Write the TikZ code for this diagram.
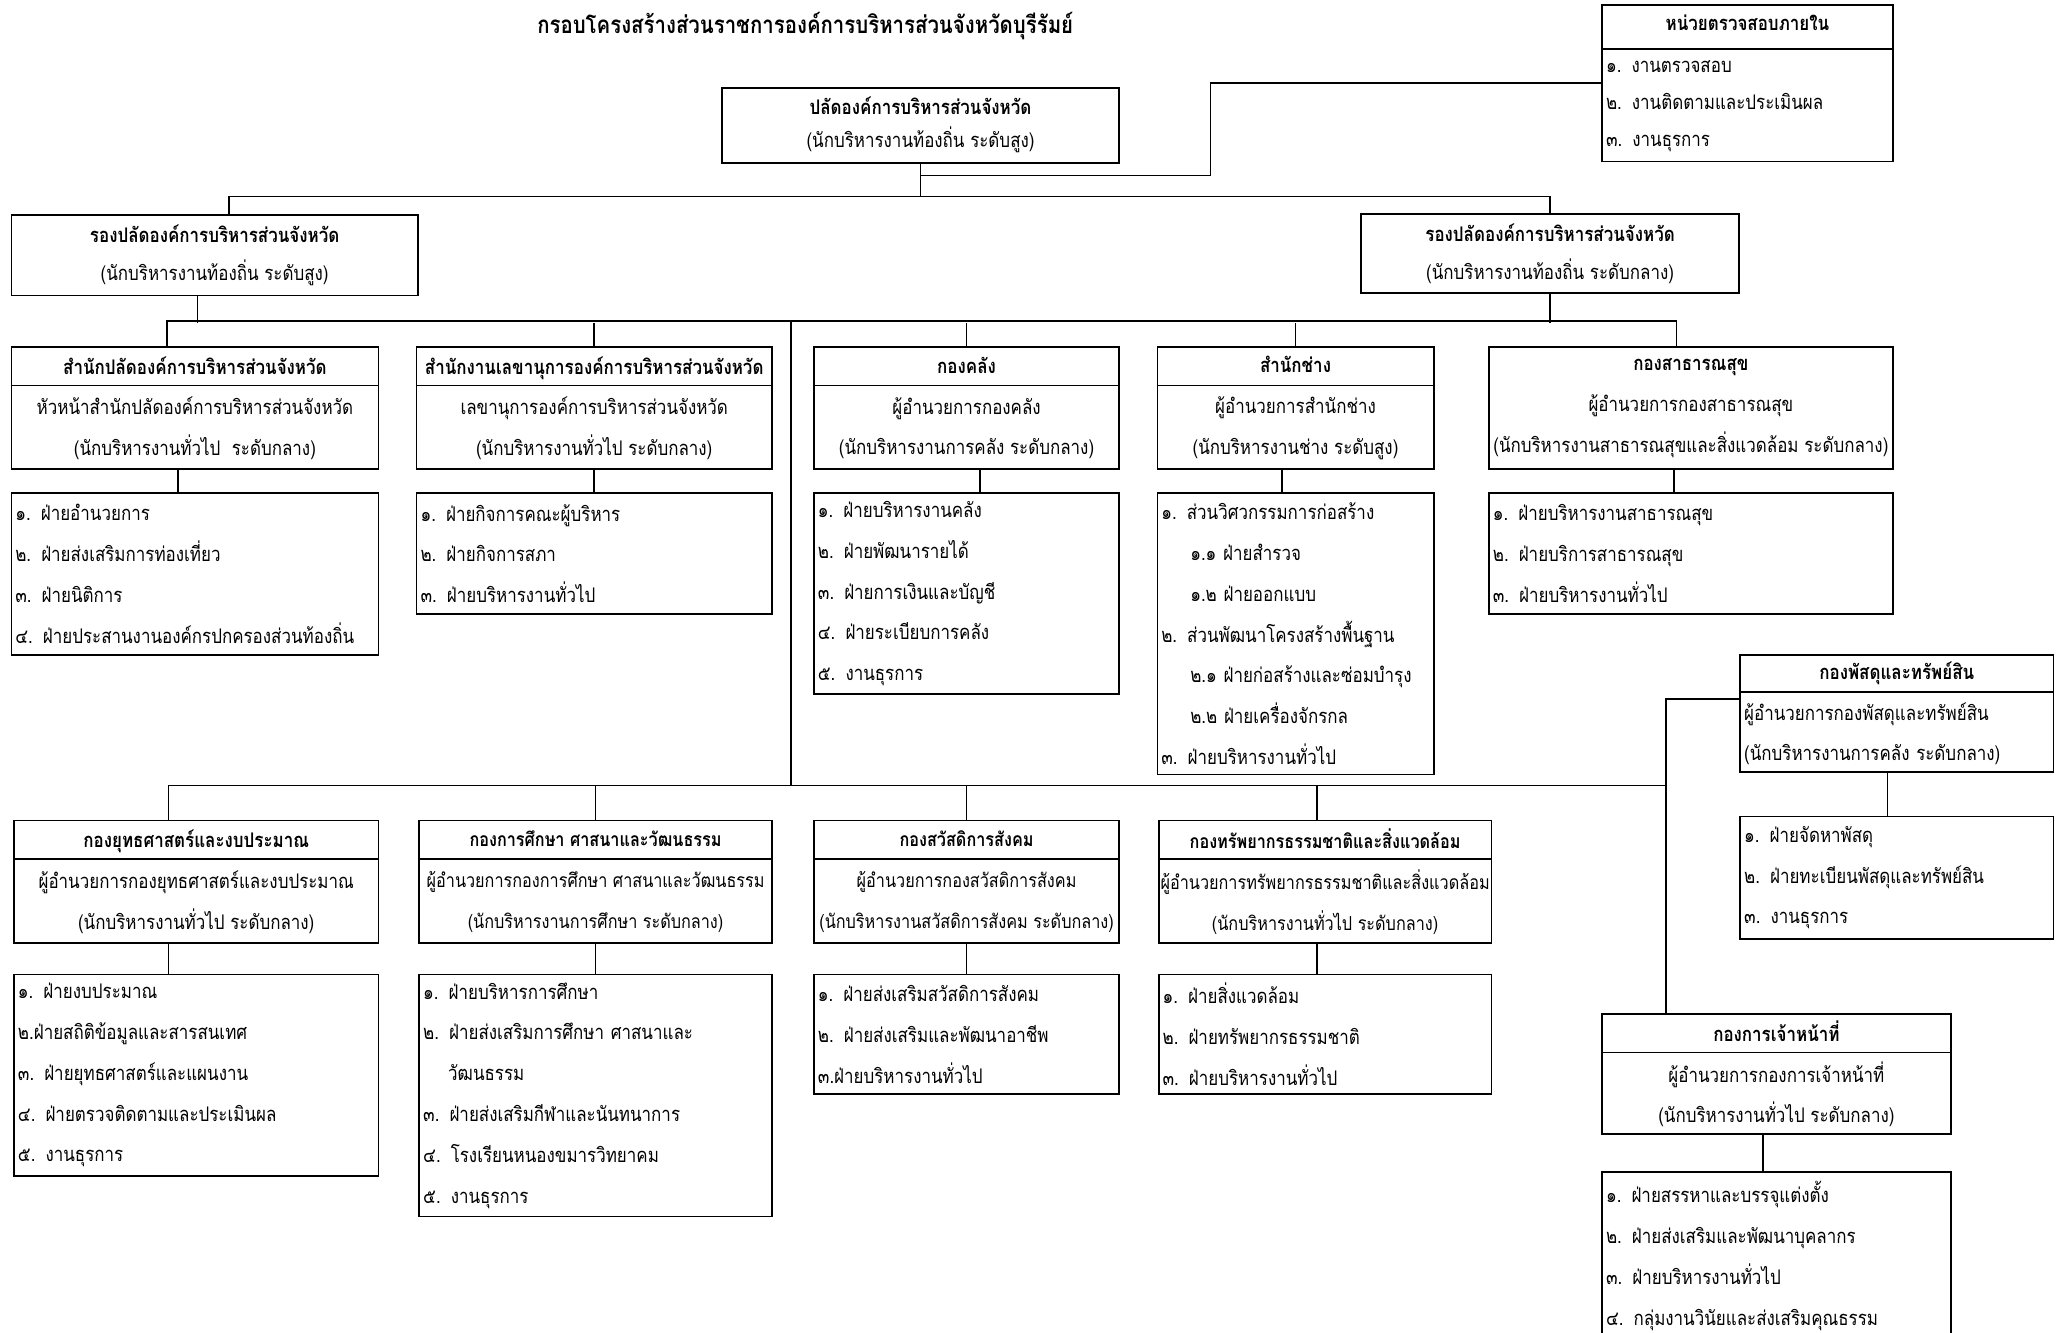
\documentclass[tikz,border=0pt]{standalone}
\usepackage{fontspec}
\usepackage{tikz}
\newfontfamily\thaifont[Script=Thai, FakeStretch=0.842]{Loma}
\usetikzlibrary{calc}
\tikzset{every node/.style={font=\thaifont\fontsize{15.3}{31}\selectfont},
 hbox/.style={draw, anchor=north west, align=center, inner sep=0pt},
 lbox/.style={draw, anchor=north west, align=left, inner xsep=3pt, inner ysep=0pt},
 small/.style={font=\thaifont\fontsize{14.65}{31}\selectfont},
 }

\begin{document}
\begin{tikzpicture}[x=1pt, y=-1pt, line width=1.3pt]
        \useasboundingbox (0,0) rectangle (1568,1013);
        \node[font=\thaifont\bfseries\fontsize{18.4}{20}\selectfont] (title) at (612,20) {กรอบโครงสร้างส่วนราชการองค์การบริหารส่วนจังหวัดบุรีรัมย์};

        % top level
        \node[hbox, minimum width=302, minimum height=57, font=\thaifont\fontsize{15.3}{25}\selectfont] (top) at (548,66) {\textbf{ปลัดองค์การบริหารส่วนจังหวัด}\\(นักบริหารงานท้องถิ่น ระดับสูง)};
        \node[lbox, text width=215pt, minimum height=119, font=\thaifont\fontsize{15.3}{28}\selectfont] (audit) at (1217,3) {\makebox[\linewidth]{\textbf{หน่วยตรวจสอบภายใน}}\\[4pt]๑. งานตรวจสอบ\\๒. งานติดตามและประเมินผล\\๓. งานธุรการ};
        \node[hbox, minimum width=309, minimum height=61, font=\thaifont\fontsize{15.3}{29}\selectfont] (dl) at (8,163) {\textbf{รองปลัดองค์การบริหารส่วนจังหวัด}\\(นักบริหารงานท้องถิ่น ระดับสูง)};
        \node[hbox, minimum width=287, minimum height=60, font=\thaifont\fontsize{15.3}{29}\selectfont] (dr) at (1034,162) {\textbf{รองปลัดองค์การบริหารส่วนจังหวัด}\\(นักบริหารงานท้องถิ่น ระดับกลาง)};

        % first row
        \node[hbox, minimum width=279, minimum height=93] (hpl) at (8,263) {\textbf{สำนักปลัดองค์การบริหารส่วนจังหวัด}\\หัวหน้าสำนักปลัดองค์การบริหารส่วนจังหวัด\\(นักบริหารงานทั่วไป\ \ ระดับกลาง)};
        \node[hbox, minimum width=270, minimum height=93] (hsk) at (316,263) {\textbf{สำนักงานเลขานุการองค์การบริหารส่วนจังหวัด}\\เลขานุการองค์การบริหารส่วนจังหวัด\\(นักบริหารงานทั่วไป ระดับกลาง)};
        \node[hbox, minimum width=232, minimum height=93] (hkk) at (618,263) {\textbf{กองคลัง}\\ผู้อำนวยการกองคลัง\\(นักบริหารงานการคลัง ระดับกลาง)};
        \node[hbox, minimum width=210, minimum height=93] (hch) at (879,263) {\textbf{สำนักช่าง}\\ผู้อำนวยการสำนักช่าง\\(นักบริหารงานช่าง ระดับสูง)};
        \node[hbox, minimum width=307, minimum height=93] (hsa) at (1131,263) {\textbf{กองสาธารณสุข}\\ผู้อำนวยการกองสาธารณสุข\\(นักบริหารงานสาธารณสุขและสิ่งแวดล้อม ระดับกลาง)};

        \node[lbox, text width=273pt, minimum height=123] (lpl) at (8,374) {๑. ฝ่ายอำนวยการ\\๒. ฝ่ายส่งเสริมการท่องเที่ยว\\๓. ฝ่ายนิติการ\\๔. ฝ่ายประสานงานองค์กรปกครองส่วนท้องถิ่น};
        \node[lbox, text width=264pt, minimum height=92] (lsk) at (316,374) {๑. ฝ่ายกิจการคณะผู้บริหาร\\๒. ฝ่ายกิจการสภา\\๓. ฝ่ายบริหารงานทั่วไป};
        \node[lbox, text width=226pt, minimum height=153] (lkk) at (618,374) {๑. ฝ่ายบริหารงานคลัง\\๒. ฝ่ายพัฒนารายได้\\๓. ฝ่ายการเงินและบัญชี\\๔. ฝ่ายระเบียบการคลัง\\๕. งานธุรการ};
        \node[lbox, text width=204pt, minimum height=214] (lch) at (879,374) {๑. ส่วนวิศวกรรมการก่อสร้าง\\\hspace*{22pt}๑.๑ ฝ่ายสำรวจ\\\hspace*{22pt}๑.๒ ฝ่ายออกแบบ\\๒. ส่วนพัฒนาโครงสร้างพื้นฐาน\\\hspace*{22pt}๒.๑ ฝ่ายก่อสร้างและซ่อมบำรุง\\\hspace*{22pt}๒.๒ ฝ่ายเครื่องจักรกล\\๓. ฝ่ายบริหารงานทั่วไป};
        \node[lbox, text width=301pt, minimum height=92] (lsa) at (1131,374) {๑. ฝ่ายบริหารงานสาธารณสุข\\๒. ฝ่ายบริการสาธารณสุข\\๓. ฝ่ายบริหารงานทั่วไป};

        % second row
        \node[hbox, minimum width=277, minimum height=93] (hyt) at (10,623) {\textbf{กองยุทธศาสตร์และงบประมาณ}\\ผู้อำนวยการกองยุทธศาสตร์และงบประมาณ\\(นักบริหารงานทั่วไป ระดับกลาง)};
        \node[hbox, small, minimum width=268, minimum height=93] (hks) at (318,623) {\textbf{กองการศึกษา ศาสนาและวัฒนธรรม}\\ผู้อำนวยการกองการศึกษา ศาสนาและวัฒนธรรม\\(นักบริหารงานการศึกษา ระดับกลาง)};
        \node[hbox, small, minimum width=232, minimum height=93] (hsw) at (618,623) {\textbf{กองสวัสดิการสังคม}\\ผู้อำนวยการกองสวัสดิการสังคม\\(นักบริหารงานสวัสดิการสังคม ระดับกลาง)};
        \node[hbox, small, minimum width=253, minimum height=93] (hsp) at (880,623) {\textbf{กองทรัพยากรธรรมชาติและสิ่งแวดล้อม}\\ผู้อำนวยการทรัพยากรธรรมชาติและสิ่งแวดล้อม\\(นักบริหารงานทั่วไป ระดับกลาง)};

        \node[lbox, text width=271pt, minimum height=153] (lyt) at (10,740) {๑. ฝ่ายงบประมาณ\\๒.ฝ่ายสถิติข้อมูลและสารสนเทศ\\๓. ฝ่ายยุทธศาสตร์และแผนงาน\\๔. ฝ่ายตรวจติดตามและประเมินผล\\๕. งานธุรการ};
        \node[lbox, text width=262pt, minimum height=184] (lks) at (318,740) {๑. ฝ่ายบริหารการศึกษา\\๒. ฝ่ายส่งเสริมการศึกษา ศาสนาและ\\\hspace*{19pt}วัฒนธรรม\\๓. ฝ่ายส่งเสริมกีฬาและนันทนาการ\\๔. โรงเรียนหนองขมารวิทยาคม\\๕. งานธุรการ};
        \node[lbox, text width=226pt, minimum height=91] (lsw) at (618,740) {๑. ฝ่ายส่งเสริมสวัสดิการสังคม\\๒. ฝ่ายส่งเสริมและพัฒนาอาชีพ\\๓.ฝ่ายบริหารงานทั่วไป};
        \node[lbox, text width=247pt, minimum height=91] (lsp) at (880,740) {๑. ฝ่ายสิ่งแวดล้อม\\๒. ฝ่ายทรัพยากรธรรมชาติ\\๓. ฝ่ายบริหารงานทั่วไป};

        % right column
        \node[lbox, text width=232pt, minimum height=89] (hpd) at (1322,497) {\makebox[\linewidth]{\textbf{กองพัสดุและทรัพย์สิน}}\\ผู้อำนวยการกองพัสดุและทรัพย์สิน\\(นักบริหารงานการคลัง ระดับกลาง)};
        \node[lbox, text width=232pt, minimum height=93] (lpd) at (1322,620) {๑. ฝ่ายจัดหาพัสดุ\\๒. ฝ่ายทะเบียนพัสดุและทรัพย์สิน\\๓. งานธุรการ};
        \node[hbox, minimum width=265, minimum height=91] (hjn) at (1217,770) {\textbf{กองการเจ้าหน้าที่}\\ผู้อำนวยการกองการเจ้าหน้าที่\\(นักบริหารงานทั่วไป ระดับกลาง)};
        \node[lbox, text width=259pt, minimum height=128] (ljn) at (1217,890) {๑. ฝ่ายสรรหาและบรรจุแต่งตั้ง\\๒. ฝ่ายส่งเสริมและพัฒนาบุคลากร\\๓. ฝ่ายบริหารงานทั่วไป\\๔. กลุ่มงานวินัยและส่งเสริมคุณธรรม};

        % dividers under the titles
        \foreach \nm/\dy in {audit/34, hpl/30, hsk/30, hkk/30, hch/30, hyt/30, hks/30, hsw/30, hsp/30, hpd/29, hjn/30}
            \draw ($(\nm.north west)+(0,\dy)$) -- ($(\nm.north east)+(0,\dy)$);

        % lines
        \draw (top.south) -- ++(0,25) coordinate (b1);
        \draw (b1) -| ($(dl.north)+(11,0)$);
        \draw (b1) -| (dr.north);
        \draw ($(top.south)+(0,9)$) -| ($(audit.west)+(-297,0)$) -- (audit.west);

        \coordinate (b2) at ($(dl.south)+(-13,20)$);
        \draw ($(dl.south)+(-13,0)$) -- (b2);
        \draw (dr.south) -- (dr.south |- b2);
        \draw ($(hpl.north)+(-21,0)$) |- ($(hsa.north)+(-11,-19)$) -- ($(hsa.north)+(-11,0)$);
        \foreach \nm in {hsk, hkk, hch}
            \draw (\nm.north) -- (\nm.north |- b2);

        \coordinate (b3) at ($(hyt.north)+(-21,-26)$);
        \coordinate (sp) at (601,244);
        \coordinate (pv) at ($(hjn.north west)+(49,0)$);
        \draw (sp) -- (sp |- b3);
        \draw ($(hyt.north)+(-21,0)$) -- (b3) -- (b3 -| pv);
        \draw ($(hpd.north west)+(0,34)$) -| (pv);
        \foreach \nm/\dx in {hks/0, hsw/0, hsp/-6}
            \draw ($(\nm.north)+(\dx,0)$) -- ($(\nm.north)+(\dx,-26)$);

        \foreach \nm/\sb/\dx in {hpl/lpl/-13, hsk/lsk/0, hkk/lkk/10, hch/lch/-10, hsa/lsa/-13, hyt/lyt/-21, hks/lks/0, hsw/lsw/0, hsp/lsp/-6, hpd/lpd/-7, hjn/ljn/-10} {
            \path ($(\nm.south)+(\dx,0)$) coordinate (t);
            \draw (t) -- (t |- \sb.north);
        }
    \end{tikzpicture}
\end{document}
